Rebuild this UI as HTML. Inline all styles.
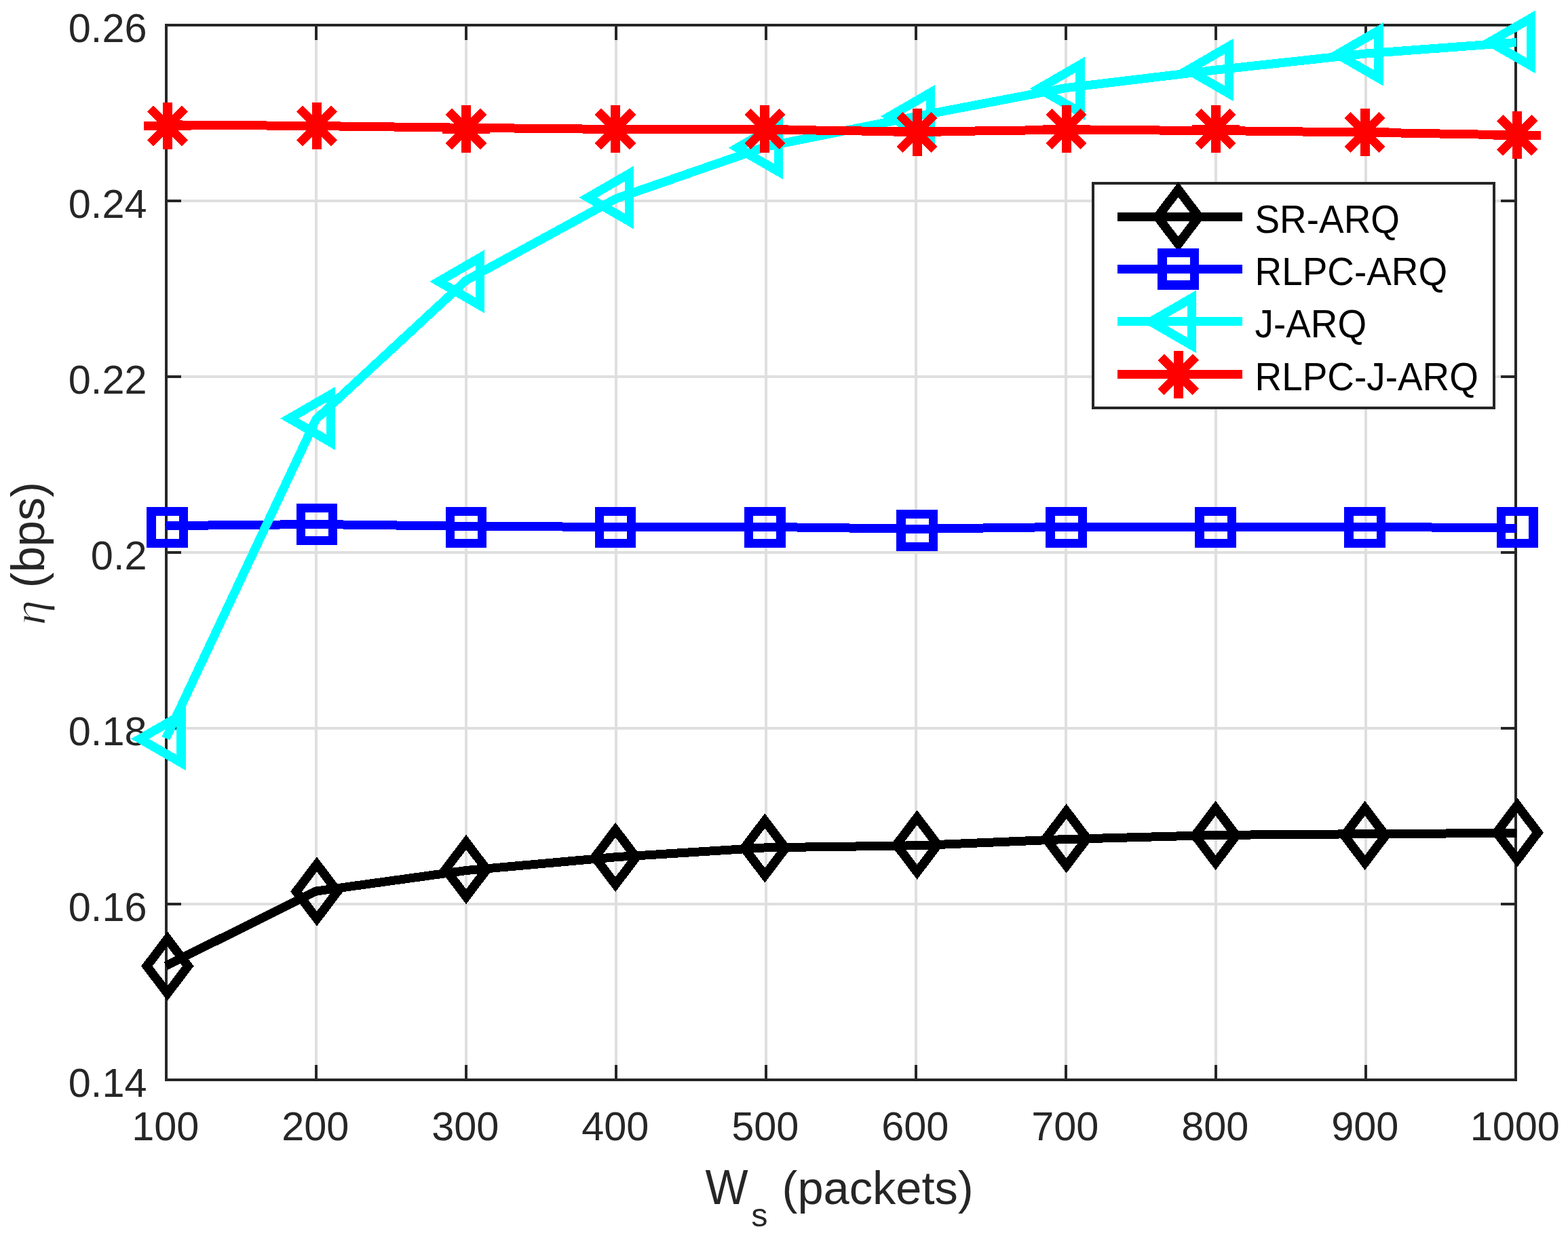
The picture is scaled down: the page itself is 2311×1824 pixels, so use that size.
<!DOCTYPE html>
<html lang="en"><head><meta charset="utf-8"><title>Throughput vs window size</title>
<style>html,body{margin:0;padding:0;background:#fff}body{width:2311px;height:1824px;overflow:hidden}svg{display:block}text{font-family:"Liberation Sans",sans-serif}</style>
</head><body>
<svg width="2311" height="1824" viewBox="0 0 2311 1824">
<rect width="2311" height="1824" fill="#fff"/>
<g stroke="#dfdfdf" stroke-width="4" fill="none">
<path d="M466 37V1591"/>
<path d="M687 37V1591"/>
<path d="M908 37V1591"/>
<path d="M1129 37V1591"/>
<path d="M1350 37V1591"/>
<path d="M1571 37V1591"/>
<path d="M1792 37V1591"/>
<path d="M2013 37V1591"/>
<path d="M245 296H2234"/>
<path d="M245 555H2234"/>
<path d="M245 814H2234"/>
<path d="M245 1073H2234"/>
<path d="M245 1332H2234"/>
</g>
<g stroke="#262626" stroke-width="4" fill="none" stroke-linecap="butt">
<rect x="245" y="37" width="1989" height="1554"/>
<path d="M466 1591V1569M466 37V59"/>
<path d="M687 1591V1569M687 37V59"/>
<path d="M908 1591V1569M908 37V59"/>
<path d="M1129 1591V1569M1129 37V59"/>
<path d="M1350 1591V1569M1350 37V59"/>
<path d="M1571 1591V1569M1571 37V59"/>
<path d="M1792 1591V1569M1792 37V59"/>
<path d="M2013 1591V1569M2013 37V59"/>
<path d="M245 296H267M2234 296H2212"/>
<path d="M245 555H267M2234 555H2212"/>
<path d="M245 814H267M2234 814H2212"/>
<path d="M245 1073H267M2234 1073H2212"/>
<path d="M245 1332H267M2234 1332H2212"/>
</g>
<g fill="#262626" font-size="59.45px">
<g text-anchor="middle">
<text x="243.8" y="1680">100</text>
<text x="464.8" y="1680">200</text>
<text x="685.8" y="1680">300</text>
<text x="906.8" y="1680">400</text>
<text x="1127.8" y="1680">500</text>
<text x="1348.8" y="1680">600</text>
<text x="1569.8" y="1680">700</text>
<text x="1790.8" y="1680">800</text>
<text x="2011.8" y="1680">900</text>
<text x="2232.8" y="1680">1000</text>
</g>
<g text-anchor="end">
<text x="216.5" y="61.7">0.26</text>
<text x="216.5" y="320.7">0.24</text>
<text x="216.5" y="579.7">0.22</text>
<text x="216.5" y="838.7">0.2</text>
<text x="216.5" y="1097.7">0.18</text>
<text x="216.5" y="1356.7">0.16</text>
<text x="216.5" y="1615.7">0.14</text>
</g>
</g>
<g fill="#262626" font-size="68.6px">
<text transform="translate(1039.6 1774.3) scale(0.975 1.056)">W</text>
<text y="1774.3"><tspan font-size="48.5px" x="1107.3" dy="32.2">s</tspan><tspan x="1133.5" dy="-32.2"> (packets)</tspan></text>
<text transform="translate(66.6 921.5) rotate(-90) scale(1.053 0.95)" style="font-family:'Liberation Serif','DejaVu Serif',serif;font-style:italic;font-size:72px" stroke="#fff" stroke-width="1.3">η</text>
<text transform="translate(65.3 866.2) rotate(-90)">(bps)</text>
</g>
<g shape-rendering="crispEdges">
<polyline points="244.5,1423 466,1313 687,1282.5 908,1262.7 1129,1248.8 1350,1245.8 1571,1236.5 1792,1230.4 2013,1228.7 2235,1227.4" fill="none" stroke="#000" stroke-width="13" stroke-linejoin="round" stroke-linecap="butt"/>
<path d="M246.8 1383.3L277.2 1423.4L246.8 1463.5L216.4 1423.4Z" fill="none" stroke="#000" stroke-width="13.4" stroke-linejoin="miter" stroke-miterlimit="10"/>
<path d="M467 1273.4L497.4 1313.5L467 1353.6L436.6 1313.5Z" fill="none" stroke="#000" stroke-width="13.4" stroke-linejoin="miter" stroke-miterlimit="10"/>
<path d="M687 1240.9L717.4 1281L687 1321.1L656.6 1281Z" fill="none" stroke="#000" stroke-width="13.4" stroke-linejoin="miter" stroke-miterlimit="10"/>
<path d="M907.1 1222.9L937.5 1263L907.1 1303.1L876.7 1263Z" fill="none" stroke="#000" stroke-width="13.4" stroke-linejoin="miter" stroke-miterlimit="10"/>
<path d="M1127.3 1209.4L1157.7 1249.5L1127.3 1289.6L1096.9 1249.5Z" fill="none" stroke="#000" stroke-width="13.4" stroke-linejoin="miter" stroke-miterlimit="10"/>
<path d="M1351.6 1204.6L1382 1244.7L1351.6 1284.8L1321.2 1244.7Z" fill="none" stroke="#000" stroke-width="13.4" stroke-linejoin="miter" stroke-miterlimit="10"/>
<path d="M1571.7 1195.3L1602.1 1235.4L1571.7 1275.5L1541.3 1235.4Z" fill="none" stroke="#000" stroke-width="13.4" stroke-linejoin="miter" stroke-miterlimit="10"/>
<path d="M1791.6 1190.9L1822 1231L1791.6 1271.1L1761.2 1231Z" fill="none" stroke="#000" stroke-width="13.4" stroke-linejoin="miter" stroke-miterlimit="10"/>
<path d="M2011.7 1190.9L2042.1 1231L2011.7 1271.1L1981.3 1231Z" fill="none" stroke="#000" stroke-width="13.4" stroke-linejoin="miter" stroke-miterlimit="10"/>
<path d="M2236.2 1186.5L2266.6 1226.6L2236.2 1266.7L2205.8 1226.6Z" fill="none" stroke="#000" stroke-width="13.4" stroke-linejoin="miter" stroke-miterlimit="10"/>
<polyline points="244.5,774.6 466,772.5 687,775.3 908,776.4 1129,776.4 1350,779.3 1571,776.4 1792,776.4 2013,776 2235,778.3" fill="none" stroke="#00f" stroke-width="13" stroke-linejoin="round" stroke-linecap="butt"/>
<rect x="223.1" y="753.3" width="47.4" height="47.4" fill="none" stroke="#00f" stroke-width="13.3"/>
<rect x="443.3" y="748.8" width="47.4" height="47.4" fill="none" stroke="#00f" stroke-width="13.3"/>
<rect x="663.3" y="753.3" width="47.4" height="47.4" fill="none" stroke="#00f" stroke-width="13.3"/>
<rect x="883.4" y="753.3" width="47.4" height="47.4" fill="none" stroke="#00f" stroke-width="13.3"/>
<rect x="1103.6" y="753.3" width="47.4" height="47.4" fill="none" stroke="#00f" stroke-width="13.3"/>
<rect x="1327.9" y="757.8" width="47.4" height="47.4" fill="none" stroke="#00f" stroke-width="13.3"/>
<rect x="1548" y="753.3" width="47.4" height="47.4" fill="none" stroke="#00f" stroke-width="13.3"/>
<rect x="1767.9" y="753.3" width="47.4" height="47.4" fill="none" stroke="#00f" stroke-width="13.3"/>
<rect x="1988" y="753.3" width="47.4" height="47.4" fill="none" stroke="#00f" stroke-width="13.3"/>
<rect x="2212.5" y="753.3" width="47.4" height="47.4" fill="none" stroke="#00f" stroke-width="13.3"/>
<polyline points="244.5,1088 466,617.5 687,413.1 908,292.6 1129,216 1350,171.5 1571,129.5 1792,103.1 2013,79 2235,62.5" fill="none" stroke="#0ff" stroke-width="13" stroke-linejoin="round" stroke-linecap="butt"/>
<path d="M206.4 1088.6L267 1053.6L267 1123.6Z" fill="none" stroke="#0ff" stroke-width="13.3" stroke-linejoin="miter" stroke-miterlimit="10"/>
<path d="M426.6 616.5L487.2 581.5L487.2 651.5Z" fill="none" stroke="#0ff" stroke-width="13.3" stroke-linejoin="miter" stroke-miterlimit="10"/>
<path d="M646.6 414.8L707.2 379.8L707.2 449.8Z" fill="none" stroke="#0ff" stroke-width="13.3" stroke-linejoin="miter" stroke-miterlimit="10"/>
<path d="M866.7 291L927.3 256L927.3 326Z" fill="none" stroke="#0ff" stroke-width="13.3" stroke-linejoin="miter" stroke-miterlimit="10"/>
<path d="M1086.9 217.8L1147.5 182.8L1147.5 252.8Z" fill="none" stroke="#0ff" stroke-width="13.3" stroke-linejoin="miter" stroke-miterlimit="10"/>
<path d="M1311.2 171.4L1371.8 136.4L1371.8 206.4Z" fill="none" stroke="#0ff" stroke-width="13.3" stroke-linejoin="miter" stroke-miterlimit="10"/>
<path d="M1531.3 130.4L1591.9 95.4L1591.9 165.4Z" fill="none" stroke="#0ff" stroke-width="13.3" stroke-linejoin="miter" stroke-miterlimit="10"/>
<path d="M1751.2 103L1811.8 68L1811.8 138Z" fill="none" stroke="#0ff" stroke-width="13.3" stroke-linejoin="miter" stroke-miterlimit="10"/>
<path d="M1971.3 80L2031.9 45L2031.9 115Z" fill="none" stroke="#0ff" stroke-width="13.3" stroke-linejoin="miter" stroke-miterlimit="10"/>
<path d="M2195.8 61.8L2256.4 26.8L2256.4 96.8Z" fill="none" stroke="#0ff" stroke-width="13.3" stroke-linejoin="miter" stroke-miterlimit="10"/>
<polyline points="244.5,183.8 466,185.6 687,188.3 908,190.5 1129,190.9 1350,194.2 1571,191.2 1792,192.5 2013,195.1 2235,199" fill="none" stroke="#f00" stroke-width="13" stroke-linejoin="round" stroke-linecap="butt"/>
<path d="M246.8 150.6V220.4" stroke="#f00" stroke-width="13.8" fill="none"/><path d="M211.8 185.5H281.8M221.2 159.9L272.4 211.1M221.2 211.1L272.4 159.9" stroke="#f00" stroke-width="13" fill="none"/>
<path d="M467 150.6V220.4" stroke="#f00" stroke-width="13.8" fill="none"/><path d="M432 185.5H502M441.4 159.9L492.6 211.1M441.4 211.1L492.6 159.9" stroke="#f00" stroke-width="13" fill="none"/>
<path d="M687 155.16V224.96" stroke="#f00" stroke-width="13.8" fill="none"/><path d="M652 190.06H722M661.4 164.46L712.6 215.66M661.4 215.66L712.6 164.46" stroke="#f00" stroke-width="13" fill="none"/>
<path d="M907.1 155.16V224.96" stroke="#f00" stroke-width="13.8" fill="none"/><path d="M872.1 190.06H942.1M881.5 164.46L932.7 215.66M881.5 215.66L932.7 164.46" stroke="#f00" stroke-width="13" fill="none"/>
<path d="M1127.3 155.16V224.96" stroke="#f00" stroke-width="13.8" fill="none"/><path d="M1092.3 190.06H1162.3M1101.7 164.46L1152.9 215.66M1101.7 215.66L1152.9 164.46" stroke="#f00" stroke-width="13" fill="none"/>
<path d="M1351.6 160.05V229.85" stroke="#f00" stroke-width="13.8" fill="none"/><path d="M1316.6 194.95H1386.6M1326 169.35L1377.2 220.55M1326 220.55L1377.2 169.35" stroke="#f00" stroke-width="13" fill="none"/>
<path d="M1571.7 155.17V224.97" stroke="#f00" stroke-width="13.8" fill="none"/><path d="M1536.7 190.07H1606.7M1546.1 164.47L1597.3 215.67M1546.1 215.67L1597.3 164.47" stroke="#f00" stroke-width="13" fill="none"/>
<path d="M1791.6 155.17V224.97" stroke="#f00" stroke-width="13.8" fill="none"/><path d="M1756.6 190.07H1826.6M1766 164.47L1817.2 215.67M1766 215.67L1817.2 164.47" stroke="#f00" stroke-width="13" fill="none"/>
<path d="M2011.7 160.05V229.85" stroke="#f00" stroke-width="13.8" fill="none"/><path d="M1976.7 194.95H2046.7M1986.1 169.35L2037.3 220.55M1986.1 220.55L2037.3 169.35" stroke="#f00" stroke-width="13" fill="none"/>
<path d="M2236.2 164.3V234.1" stroke="#f00" stroke-width="13.8" fill="none"/><path d="M2201.2 199.2H2271.2M2210.6 173.6L2261.8 224.8M2210.6 224.8L2261.8 173.6" stroke="#f00" stroke-width="13" fill="none"/>
</g>
<g shape-rendering="crispEdges">
<rect x="1611.2" y="269.7" width="590.5" height="330.8" fill="#fff" stroke="#262626" stroke-width="4"/>
<path d="M1647 319.5H1831" stroke="#000" stroke-width="13" fill="none"/>
<path d="M1736.6 279.4L1767 319.5L1736.6 359.6L1706.2 319.5Z" fill="none" stroke="#000" stroke-width="13.4" stroke-linejoin="miter" stroke-miterlimit="10"/>
<path d="M1647 396.4H1831" stroke="#00f" stroke-width="13" fill="none"/>
<rect x="1712.9" y="372.7" width="47.4" height="47.4" fill="none" stroke="#00f" stroke-width="13.3"/>
<path d="M1647 473.9H1831" stroke="#0ff" stroke-width="13" fill="none"/>
<path d="M1696.2 473.9L1756.8 438.9L1756.8 508.9Z" fill="none" stroke="#0ff" stroke-width="13.3" stroke-linejoin="miter" stroke-miterlimit="10"/>
<path d="M1647 551.7H1831" stroke="#f00" stroke-width="13" fill="none"/>
<path d="M1736.6 516.8V586.6" stroke="#f00" stroke-width="13.8" fill="none"/><path d="M1701.6 551.7H1771.6M1711 526.1L1762.2 577.3M1711 577.3L1762.2 526.1" stroke="#f00" stroke-width="13" fill="none"/>
<g fill="#000" font-size="54.9px">
<text transform="translate(1849.5 342.7) scale(1 1.06)">SR-ARQ</text>
<text transform="translate(1849.5 419.6) scale(1 1.06)">RLPC-ARQ</text>
<text transform="translate(1849.5 497.1) scale(1 1.06)">J-ARQ</text>
<text transform="translate(1849.5 574.9) scale(1 1.06)">RLPC-J-ARQ</text>
</g>
</g>
</svg>
</body></html>
